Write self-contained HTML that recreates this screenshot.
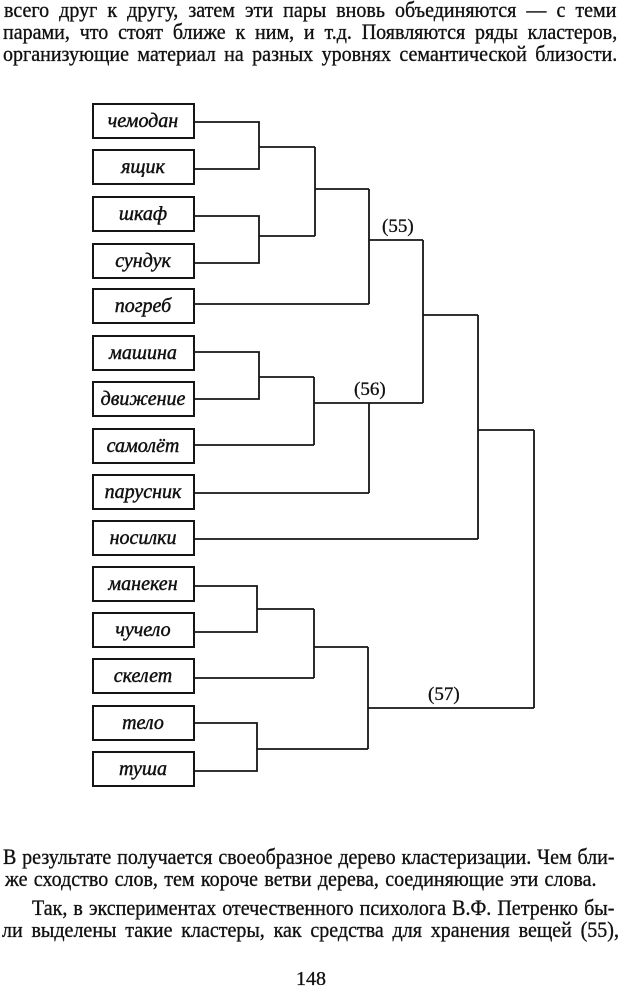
<!DOCTYPE html>
<html><head><meta charset="utf-8">
<style>
html,body{margin:0;padding:0;background:#fff;}
body{width:620px;height:990px;position:relative;overflow:hidden;}
.ln{position:absolute;font-family:"Liberation Serif","Noto Serif CJK SC",serif;font-size:22px;line-height:22px;color:#111;white-space:nowrap;text-align:justify;text-align-last:justify;transform:scaleX(0.91);transform-origin:0 0;-webkit-text-stroke:0.35px #111;}
svg{position:absolute;left:0;top:0;}
</style></head><body>
<div class="ln" style="left:4px;top:-1px;width:673px;">всего друг к другу, затем эти пары вновь объединяются — с теми</div>
<div class="ln" style="left:3px;top:21px;width:675px;">парами, что стоят ближе к ним, и т.д. Появляются ряды кластеров,</div>
<div class="ln" style="left:3px;top:43px;width:675px;">организующие материал на разных уровнях семантической близости.</div>

<svg width="620" height="990" viewBox="0 0 620 990" xmlns="http://www.w3.org/2000/svg">
<g fill="#fff" stroke="#151515" stroke-width="2">
<rect x="93" y="104" width="101" height="34"/>
<rect x="93" y="150" width="101" height="34"/>
<rect x="93" y="197" width="101" height="34"/>
<rect x="93" y="244" width="101" height="34"/>
<rect x="93" y="289" width="101" height="34"/>
<rect x="93" y="336" width="101" height="34"/>
<rect x="93" y="382" width="101" height="34"/>
<rect x="93" y="429" width="101" height="34"/>
<rect x="93" y="475" width="101" height="34"/>
<rect x="93" y="521" width="101" height="34"/>
<rect x="93" y="567" width="101" height="34"/>
<rect x="93" y="613" width="101" height="34"/>
<rect x="93" y="659" width="101" height="34"/>
<rect x="93" y="706" width="101" height="34"/>
<rect x="93" y="752" width="101" height="34"/>
</g>
<g fill="none" stroke="#151515" stroke-width="1.8">
<polyline points="194,122 259,122 259,169 194,169"/>
<line x1="259" y1="147" x2="315" y2="147"/>
<polyline points="194,216 259,216 259,263 194,263"/>
<line x1="259" y1="236" x2="315" y2="236"/>
<line x1="315" y1="147" x2="315" y2="236"/>
<line x1="315" y1="189" x2="369" y2="189"/>
<line x1="194" y1="304" x2="369" y2="304"/>
<line x1="369" y1="189" x2="369" y2="304"/>
<line x1="369" y1="240" x2="423" y2="240"/>
<polyline points="194,352 259,352 259,399 194,399"/>
<line x1="259" y1="377" x2="314" y2="377"/>
<line x1="194" y1="445" x2="314" y2="445"/>
<line x1="314" y1="377" x2="314" y2="445"/>
<line x1="314" y1="403" x2="423" y2="403"/>
<line x1="194" y1="493" x2="369" y2="493"/>
<line x1="369" y1="403" x2="369" y2="493"/>
<line x1="423" y1="240" x2="423" y2="403"/>
<line x1="423" y1="315" x2="478" y2="315"/>
<line x1="194" y1="539" x2="478" y2="539"/>
<line x1="478" y1="315" x2="478" y2="539"/>
<line x1="478" y1="430" x2="534" y2="430"/>
<polyline points="194,586 257,586 257,632 194,632"/>
<line x1="257" y1="609" x2="314" y2="609"/>
<line x1="194" y1="678" x2="314" y2="678"/>
<line x1="314" y1="609" x2="314" y2="678"/>
<line x1="314" y1="647" x2="368" y2="647"/>
<polyline points="194,723 257,723 257,771 194,771"/>
<line x1="257" y1="749" x2="368" y2="749"/>
<line x1="368" y1="647" x2="368" y2="749"/>
<line x1="368" y1="708" x2="534" y2="708"/>
<line x1="534" y1="430" x2="534" y2="708"/>
</g>
<g font-family="Liberation Serif, serif" font-style="italic" font-size="20" fill="#111" stroke="#111" stroke-width="0.45" text-anchor="middle">
<text x="143" y="127">чемодан</text>
<text x="143" y="173">ящик</text>
<text x="143" y="220">шкаф</text>
<text x="143" y="267">сундук</text>
<text x="143" y="312">погреб</text>
<text x="143" y="359">машина</text>
<text x="143" y="405">движение</text>
<text x="143" y="452">самолёт</text>
<text x="143" y="498">парусник</text>
<text x="143" y="544">носилки</text>
<text x="143" y="590">манекен</text>
<text x="143" y="636">чучело</text>
<text x="143" y="682">скелет</text>
<text x="143" y="729">тело</text>
<text x="143" y="775">туша</text>
</g>
<g font-family="Liberation Serif, serif" font-size="19" fill="#111" stroke="#111" stroke-width="0.3">
<text x="382" y="232">(55)</text>
<text x="354" y="395">(56)</text>
<text x="428" y="700">(57)</text>
</g>
<text x="311" y="985" font-family="Liberation Serif, serif" font-size="20" fill="#111" stroke="#111" stroke-width="0.3" text-anchor="middle">148</text>
</svg>

<div class="ln" style="left:3px;top:846px;width:672px;">В результате получается своеобразное дерево кластеризации. Чем бли-</div>
<div class="ln" style="left:5px;top:868px;width:650px;">же сходство слов, тем короче ветви дерева, соединяющие эти слова.</div>
<div class="ln" style="left:32px;top:897px;width:640px;">Так, в экспериментах отечественного психолога В.Ф. Петренко бы-</div>
<div class="ln" style="left:2px;top:919px;width:678px;">ли выделены такие кластеры, как средства для хранения вещей (55),</div>
</body></html>
